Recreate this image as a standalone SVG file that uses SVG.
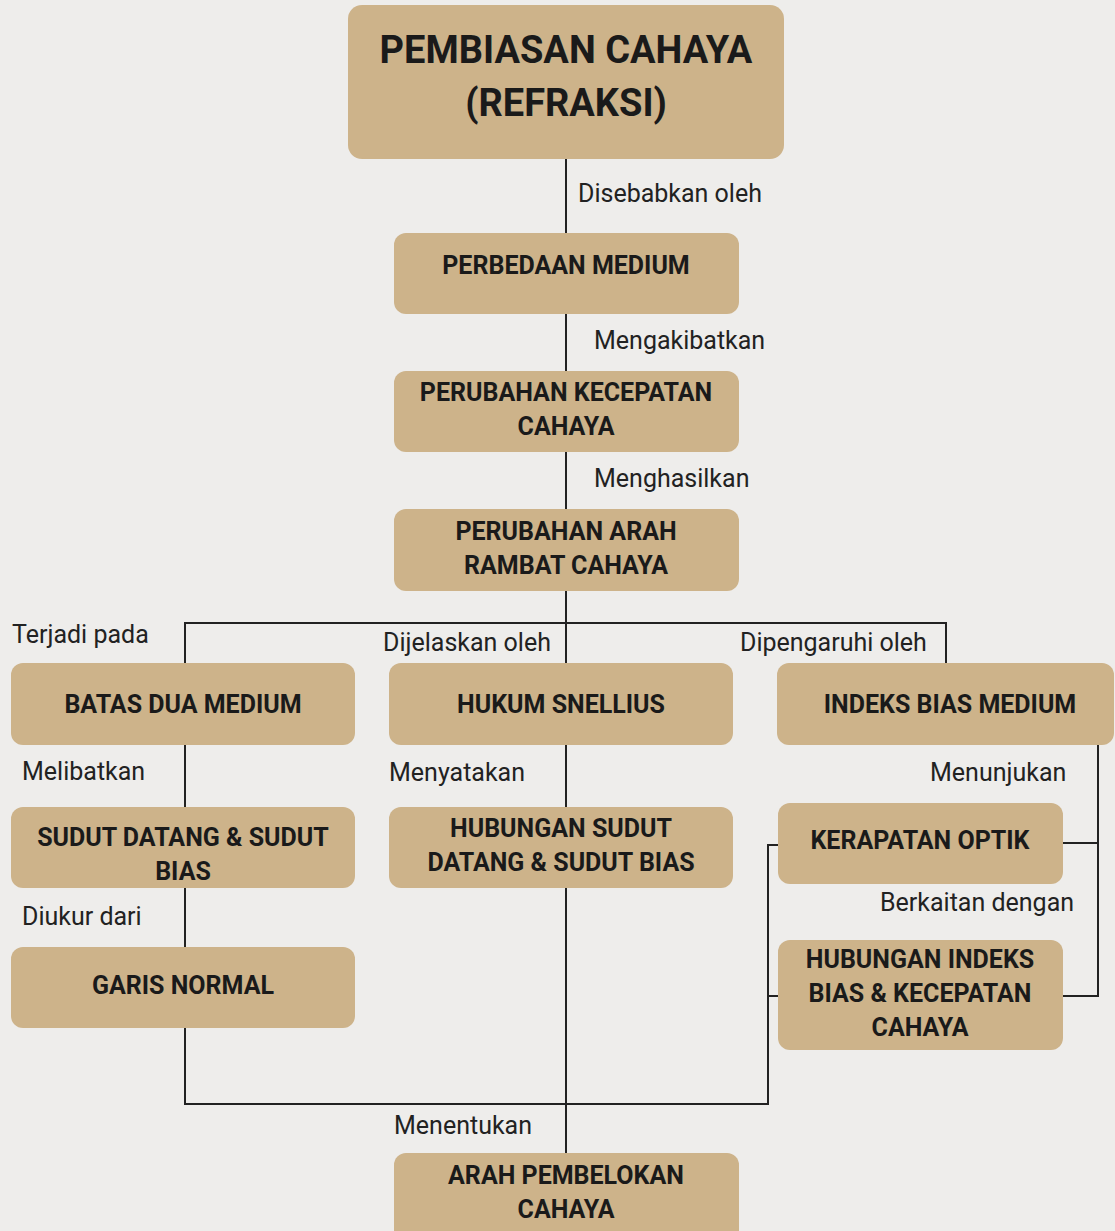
<svg xmlns="http://www.w3.org/2000/svg" width="1115" height="1231" viewBox="0 0 1115 1231">
<style>
.box{fill:#CDB38A;}
.nt{font-family:Roboto,"Liberation Sans",sans-serif;font-weight:bold;font-size:25px;fill:#1a1a1a;text-anchor:middle;}
.tt{font-family:Roboto,"Liberation Sans",sans-serif;font-weight:bold;font-size:38px;fill:#1a1a1a;text-anchor:middle;}
.lb{font-family:Roboto,"Liberation Sans",sans-serif;font-size:25px;fill:#222;}
.ln{stroke:#222;stroke-width:2;fill:none;}
</style>
<rect x="0" y="0" width="1115" height="1231" fill="#EEEDEB"/>
<g id="connectors">
<path class="ln" d="M566 159V233M566 314V371M566 452V509M566 591V663M185 663V623H946V663"/>
<path class="ln" d="M185 745V807M185 888V947M185 1028V1104H768V845H778M768 996H778"/>
<path class="ln" d="M566 745V807M566 888V1153"/>
<path class="ln" d="M1098 745V996H1063M1063 843H1098"/>
</g>
<g id="labels">
<text class="lb" x="578" y="202">Disebabkan oleh</text>
<text class="lb" x="594" y="349">Mengakibatkan</text>
<text class="lb" x="594" y="487">Menghasilkan</text>
<text class="lb" x="12" y="643">Terjadi pada</text>
<text class="lb" x="383" y="651">Dijelaskan oleh</text>
<text class="lb" x="740" y="651">Dipengaruhi oleh</text>
<text class="lb" x="22" y="780">Melibatkan</text>
<text class="lb" x="389" y="781">Menyatakan</text>
<text class="lb" x="930" y="781">Menunjukan</text>
<text class="lb" x="22" y="925">Diukur dari</text>
<text class="lb" x="880" y="911">Berkaitan dengan</text>
<text class="lb" x="394" y="1134">Menentukan</text>
</g>
<g id="n-title"><rect class="box" x="348" y="5" width="436" height="154" rx="14"/><text class="tt" x="566" y="63">PEMBIASAN CAHAYA</text><text class="tt" x="566" y="116">(REFRAKSI)</text></g>
<g id="n-perbedaan"><rect class="box" x="394" y="233" width="345" height="81" rx="12"/><text class="nt" x="566" y="274">PERBEDAAN MEDIUM</text></g>
<g id="n-kecepatan"><rect class="box" x="394" y="371" width="345" height="81" rx="12"/><text class="nt" x="566" y="401">PERUBAHAN KECEPATAN</text><text class="nt" x="566" y="435">CAHAYA</text></g>
<g id="n-arah"><rect class="box" x="394" y="509" width="345" height="82" rx="12"/><text class="nt" x="566" y="540">PERUBAHAN ARAH</text><text class="nt" x="566" y="574">RAMBAT CAHAYA</text></g>
<g id="n-batas"><rect class="box" x="11" y="663" width="344" height="82" rx="12"/><text class="nt" x="183" y="713">BATAS DUA MEDIUM</text></g>
<g id="n-snellius"><rect class="box" x="389" y="663" width="344" height="82" rx="12"/><text class="nt" x="561" y="713">HUKUM SNELLIUS</text></g>
<g id="n-indeks"><rect class="box" x="777" y="663" width="337" height="82" rx="12"/><text class="nt" x="950" y="713">INDEKS BIAS MEDIUM</text></g>
<g id="n-sudut"><rect class="box" x="11" y="807" width="344" height="81" rx="12"/><text class="nt" x="183" y="846">SUDUT DATANG &amp; SUDUT</text><text class="nt" x="183" y="880">BIAS</text></g>
<g id="n-hubsudut"><rect class="box" x="389" y="807" width="344" height="81" rx="12"/><text class="nt" x="561" y="837">HUBUNGAN SUDUT</text><text class="nt" x="561" y="871">DATANG &amp; SUDUT BIAS</text></g>
<g id="n-kerapatan"><rect class="box" x="778" y="803" width="285" height="81" rx="12"/><text class="nt" x="920" y="849">KERAPATAN OPTIK</text></g>
<g id="n-normal"><rect class="box" x="11" y="947" width="344" height="81" rx="12"/><text class="nt" x="183" y="994">GARIS NORMAL</text></g>
<g id="n-hubindeks"><rect class="box" x="778" y="940" width="285" height="110" rx="12"/><text class="nt" x="920" y="968">HUBUNGAN INDEKS</text><text class="nt" x="920" y="1002">BIAS &amp; KECEPATAN</text><text class="nt" x="920" y="1036">CAHAYA</text></g>
<g id="n-pembelokan"><rect class="box" x="394" y="1153" width="345" height="90" rx="12"/><text class="nt" x="566" y="1184">ARAH PEMBELOKAN</text><text class="nt" x="566" y="1218">CAHAYA</text></g>
</svg>
